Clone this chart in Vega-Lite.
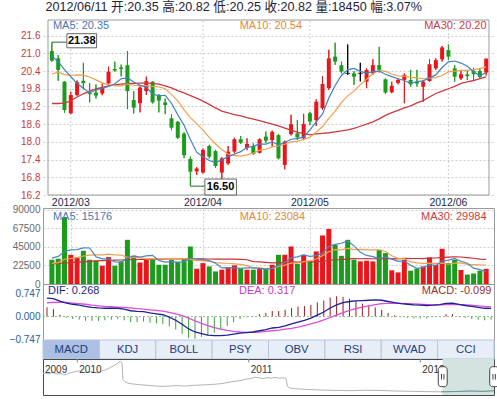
{
  "$schema": "https://vega.github.io/schema/vega-lite/v6.json",
  "padding": 0,
  "background": "#ffffff",
  "spacing": 0,
  "bounds": "flush",
  "title": {"text": "2012/06/11 开:20.35 高:20.82 低:20.25 收:20.82 量:18450 幅:3.07%", "anchor": "start", "dx": 45, "offset": 6, "fontSize": 12.6, "fontWeight": "normal", "color": "#1e2238", "font": "Liberation Sans, Noto Sans CJK SC, sans-serif"},
  "config": {
    "font": "Liberation Sans, Noto Sans CJK SC, sans-serif",
    "view": {"stroke": "#9a9a9a", "strokeWidth": 1},
    "axis": {"labelFontSize": 10, "domain": false, "ticks": false, "gridDash": [2, 2], "gridColor": "#cccccc", "gridWidth": 1, "labelPadding": 3, "labelOverlap": false}
  },
  "datasets": {
    "k": [
      {"i":0,"o":21.08,"h":21.38,"l":20.72,"c":20.75,"d":"dn","ma5":20.90,"ma10":20.30,"ma30":19.30,"v":29500,"vd":"dn","vma5":31500,"vma10":25000,"vma30":24500,"dif":0.60,"dea":0.45,"macd":0.30},
      {"i":1,"o":20.83,"h":20.94,"l":20.07,"c":20.44,"d":"dn","ma5":20.72,"ma10":20.36,"ma30":19.30,"v":30700,"vd":"dn","vma5":33500,"vma10":26000,"vma30":25000,"dif":0.58,"dea":0.46,"macd":0.24},
      {"i":2,"o":20.04,"h":20.06,"l":18.99,"c":19.08,"d":"dn","ma5":20.45,"ma10":20.28,"ma30":19.31,"v":81200,"vd":"dn","vma5":39500,"vma10":30000,"vma30":25500,"dif":0.50,"dea":0.47,"macd":0.06},
      {"i":3,"o":18.97,"h":19.70,"l":18.94,"c":19.59,"d":"up","ma5":20.21,"ma10":20.25,"ma30":19.40,"v":35500,"vd":"up","vma5":41500,"vma10":31000,"vma30":26000,"dif":0.44,"dea":0.46,"macd":-0.04},
      {"i":4,"o":19.59,"h":20.08,"l":19.55,"c":20.02,"d":"up","ma5":19.98,"ma10":20.27,"ma30":19.52,"v":32300,"vd":"up","vma5":41800,"vma10":32000,"vma30":26500,"dif":0.40,"dea":0.44,"macd":-0.08},
      {"i":5,"o":20.07,"h":20.68,"l":19.78,"c":19.99,"d":"dn","ma5":19.82,"ma10":20.26,"ma30":19.63,"v":40400,"vd":"dn","vma5":44000,"vma10":34000,"vma30":27000,"dif":0.37,"dea":0.42,"macd":-0.10},
      {"i":6,"o":19.66,"h":19.99,"l":19.34,"c":19.62,"d":"dn","ma5":19.66,"ma10":20.20,"ma30":19.72,"v":29500,"vd":"dn","vma5":43800,"vma10":35000,"vma30":27500,"dif":0.33,"dea":0.40,"macd":-0.14},
      {"i":7,"o":19.67,"h":19.95,"l":19.47,"c":19.57,"d":"dn","ma5":19.76,"ma10":20.10,"ma30":19.80,"v":28300,"vd":"dn","vma5":33200,"vma10":35500,"vma30":28000,"dif":0.30,"dea":0.37,"macd":-0.14},
      {"i":8,"o":19.64,"h":19.98,"l":19.58,"c":19.84,"d":"up","ma5":19.81,"ma10":20.00,"ma30":19.85,"v":22200,"vd":"up","vma5":30500,"vma10":35500,"vma30":28300,"dif":0.28,"dea":0.35,"macd":-0.14},
      {"i":9,"o":19.98,"h":20.55,"l":19.90,"c":20.38,"d":"up","ma5":19.88,"ma10":19.93,"ma30":19.90,"v":32700,"vd":"up","vma5":30600,"vma10":36200,"vma30":28600,"dif":0.27,"dea":0.33,"macd":-0.12},
      {"i":10,"o":20.47,"h":20.72,"l":20.38,"c":20.42,"d":"dn","ma5":19.97,"ma10":19.90,"ma30":19.93,"v":22200,"vd":"dn","vma5":27000,"vma10":35500,"vma30":29000,"dif":0.27,"dea":0.32,"macd":-0.10},
      {"i":11,"o":20.52,"h":20.62,"l":20.22,"c":20.47,"d":"dn","ma5":20.14,"ma10":19.90,"ma30":19.96,"v":27500,"vd":"dn","vma5":26600,"vma10":35200,"vma30":29200,"dif":0.27,"dea":0.31,"macd":-0.08},
      {"i":12,"o":20.60,"h":21.08,"l":19.11,"c":19.72,"d":"dn","ma5":20.17,"ma10":19.96,"ma30":19.97,"v":53700,"vd":"dn","vma5":31700,"vma10":32400,"vma30":29500,"dif":0.24,"dea":0.30,"macd":-0.12},
      {"i":13,"o":19.42,"h":19.72,"l":18.96,"c":19.16,"d":"dn","ma5":20.03,"ma10":19.92,"ma30":19.98,"v":34300,"vd":"dn","vma5":34100,"vma10":32300,"vma30":29700,"dif":0.19,"dea":0.28,"macd":-0.18},
      {"i":14,"o":19.31,"h":19.93,"l":19.00,"c":19.84,"d":"up","ma5":19.92,"ma10":19.90,"ma30":19.99,"v":26200,"vd":"up","vma5":32800,"vma10":31700,"vma30":29800,"dif":0.17,"dea":0.26,"macd":-0.18},
      {"i":15,"o":19.72,"h":20.21,"l":19.59,"c":20.06,"d":"up","ma5":19.85,"ma10":19.91,"ma30":19.99,"v":29500,"vd":"up","vma5":34200,"vma10":30600,"vma30":30000,"dif":0.16,"dea":0.24,"macd":-0.16},
      {"i":16,"o":20.04,"h":20.06,"l":19.30,"c":19.34,"d":"dn","ma5":19.62,"ma10":19.88,"ma30":19.98,"v":30300,"vd":"dn","vma5":34800,"vma10":30700,"vma30":30100,"dif":0.12,"dea":0.22,"macd":-0.20},
      {"i":17,"o":19.59,"h":19.62,"l":19.00,"c":19.40,"d":"dn","ma5":19.56,"ma10":19.86,"ma30":19.96,"v":23400,"vd":"dn","vma5":28700,"vma10":30200,"vma30":30200,"dif":0.09,"dea":0.20,"macd":-0.22},
      {"i":18,"o":19.34,"h":19.47,"l":18.94,"c":19.25,"d":"dn","ma5":19.58,"ma10":19.80,"ma30":19.90,"v":23400,"vd":"dn","vma5":26600,"vma10":30300,"vma30":30300,"dif":0.06,"dea":0.18,"macd":-0.24},
      {"i":19,"o":18.80,"h":18.93,"l":18.40,"c":18.48,"d":"dn","ma5":19.31,"ma10":19.61,"ma30":19.83,"v":29500,"vd":"dn","vma5":27200,"vma10":30000,"vma30":30400,"dif":-0.02,"dea":0.14,"macd":-0.32},
      {"i":20,"o":18.68,"h":18.71,"l":18.10,"c":18.14,"d":"dn","ma5":18.92,"ma10":19.39,"ma30":19.74,"v":26700,"vd":"dn","vma5":26700,"vma10":30500,"vma30":30400,"dif":-0.12,"dea":0.09,"macd":-0.42},
      {"i":21,"o":18.28,"h":18.32,"l":17.45,"c":17.55,"d":"dn","ma5":18.56,"ma10":19.09,"ma30":19.66,"v":31500,"vd":"dn","vma5":26900,"vma10":30900,"vma30":30500,"dif":-0.25,"dea":0.03,"macd":-0.56},
      {"i":22,"o":17.42,"h":17.50,"l":16.50,"c":16.99,"d":"dn","ma5":18.08,"ma10":18.82,"ma30":19.57,"v":45600,"vd":"dn","vma5":31300,"vma10":30000,"vma30":30600,"dif":-0.40,"dea":-0.05,"macd":-0.70},
      {"i":23,"o":17.00,"h":17.15,"l":16.88,"c":17.10,"d":"up","ma5":17.65,"ma10":18.62,"ma30":19.48,"v":18600,"vd":"up","vma5":30400,"vma10":28500,"vma30":30500,"dif":-0.50,"dea":-0.14,"macd":-0.72},
      {"i":24,"o":16.96,"h":17.78,"l":16.93,"c":17.73,"d":"up","ma5":17.50,"ma10":18.40,"ma30":19.38,"v":25400,"vd":"up","vma5":29600,"vma10":28400,"vma30":30500,"dif":-0.55,"dea":-0.22,"macd":-0.66},
      {"i":25,"o":17.86,"h":17.90,"l":17.44,"c":17.50,"d":"dn","ma5":17.37,"ma10":18.15,"ma30":19.27,"v":21400,"vd":"dn","vma5":28500,"vma10":27600,"vma30":30400,"dif":-0.60,"dea":-0.29,"macd":-0.62},
      {"i":26,"o":17.69,"h":17.73,"l":17.12,"c":17.18,"d":"dn","ma5":17.30,"ma10":17.93,"ma30":19.15,"v":15300,"vd":"dn","vma5":25300,"vma10":26100,"vma30":30300,"dif":-0.62,"dea":-0.36,"macd":-0.52},
      {"i":27,"o":16.96,"h":17.48,"l":16.65,"c":17.44,"d":"up","ma5":17.39,"ma10":17.74,"ma30":19.04,"v":17400,"vd":"up","vma5":19600,"vma10":25500,"vma30":30300,"dif":-0.62,"dea":-0.41,"macd":-0.42},
      {"i":28,"o":17.27,"h":17.86,"l":17.22,"c":17.67,"d":"up","ma5":17.50,"ma10":17.58,"ma30":18.98,"v":20600,"vd":"up","vma5":20000,"vma10":25200,"vma30":30200,"dif":-0.60,"dea":-0.45,"macd":-0.30},
      {"i":29,"o":17.67,"h":18.14,"l":17.61,"c":18.09,"d":"up","ma5":17.58,"ma10":17.54,"ma30":18.92,"v":22600,"vd":"up","vma5":19500,"vma10":24500,"vma30":30200,"dif":-0.57,"dea":-0.48,"macd":-0.18},
      {"i":30,"o":18.09,"h":18.20,"l":17.93,"c":17.97,"d":"dn","ma5":17.67,"ma10":17.52,"ma30":18.88,"v":19400,"vd":"dn","vma5":19100,"vma10":23800,"vma30":29900,"dif":-0.54,"dea":-0.50,"macd":-0.08},
      {"i":31,"o":17.80,"h":18.12,"l":17.72,"c":17.93,"d":"up","ma5":17.82,"ma10":17.56,"ma30":18.82,"v":17400,"vd":"up","vma5":19500,"vma10":22400,"vma30":29500,"dif":-0.52,"dea":-0.51,"macd":-0.02},
      {"i":32,"o":17.86,"h":17.95,"l":17.56,"c":17.59,"d":"dn","ma5":17.85,"ma10":17.62,"ma30":18.77,"v":17400,"vd":"dn","vma5":19500,"vma10":19600,"vma30":27300,"dif":-0.50,"dea":-0.51,"macd":0.02},
      {"i":33,"o":17.63,"h":18.12,"l":17.61,"c":18.09,"d":"up","ma5":17.93,"ma10":17.72,"ma30":18.72,"v":18200,"vd":"up","vma5":19000,"vma10":19500,"vma30":26800,"dif":-0.46,"dea":-0.50,"macd":0.08},
      {"i":34,"o":18.18,"h":18.35,"l":17.95,"c":18.04,"d":"dn","ma5":17.92,"ma10":17.75,"ma30":18.66,"v":18600,"vd":"dn","vma5":18200,"vma10":18800,"vma30":26300,"dif":-0.42,"dea":-0.48,"macd":0.12},
      {"i":35,"o":18.06,"h":18.38,"l":17.84,"c":18.34,"d":"up","ma5":18.00,"ma10":17.83,"ma30":18.60,"v":23400,"vd":"up","vma5":19000,"vma10":19000,"vma30":25700,"dif":-0.37,"dea":-0.46,"macd":0.18},
      {"i":36,"o":18.23,"h":18.26,"l":17.41,"c":17.44,"d":"dn","ma5":17.90,"ma10":17.86,"ma30":18.54,"v":35500,"vd":"dn","vma5":22600,"vma10":21100,"vma30":25900,"dif":-0.35,"dea":-0.44,"macd":0.18},
      {"i":37,"o":17.22,"h":18.04,"l":17.07,"c":18.01,"d":"up","ma5":17.98,"ma10":17.92,"ma30":18.47,"v":35500,"vd":"up","vma5":26200,"vma10":22900,"vma30":26200,"dif":-0.30,"dea":-0.41,"macd":0.22},
      {"i":38,"o":18.26,"h":18.92,"l":18.22,"c":18.60,"d":"up","ma5":18.09,"ma10":18.01,"ma30":18.40,"v":45600,"vd":"up","vma5":31700,"vma10":25400,"vma30":27000,"dif":-0.24,"dea":-0.38,"macd":0.28},
      {"i":39,"o":18.29,"h":18.74,"l":18.06,"c":18.15,"d":"dn","ma5":18.11,"ma10":18.02,"ma30":18.33,"v":24600,"vd":"dn","vma5":32900,"vma10":25600,"vma30":26700,"dif":-0.18,"dea":-0.34,"macd":0.32},
      {"i":40,"o":18.12,"h":18.95,"l":18.06,"c":18.61,"d":"up","ma5":18.16,"ma10":18.08,"ma30":18.28,"v":35500,"vd":"up","vma5":35300,"vma10":27200,"vma30":27100,"dif":-0.12,"dea":-0.29,"macd":0.34},
      {"i":41,"o":18.97,"h":19.02,"l":18.57,"c":18.69,"d":"dn","ma5":18.41,"ma10":18.16,"ma30":18.24,"v":27500,"vd":"dn","vma5":33700,"vma10":28200,"vma30":27100,"dif":-0.05,"dea":-0.24,"macd":0.38},
      {"i":42,"o":18.74,"h":19.44,"l":18.54,"c":19.36,"d":"up","ma5":18.68,"ma10":18.33,"ma30":18.27,"v":39600,"vd":"up","vma5":34600,"vma10":30400,"vma30":26700,"dif":0.05,"dea":-0.18,"macd":0.46},
      {"i":43,"o":19.14,"h":20.23,"l":19.08,"c":19.96,"d":"up","ma5":18.95,"ma10":18.52,"ma30":18.29,"v":59000,"vd":"up","vma5":37200,"vma10":34500,"vma30":27500,"dif":0.15,"dea":-0.11,"macd":0.52},
      {"i":44,"o":19.82,"h":21.12,"l":19.76,"c":20.83,"d":"up","ma5":19.49,"ma10":18.80,"ma30":18.31,"v":67000,"vd":"up","vma5":45700,"vma10":39300,"vma30":28800,"dif":0.28,"dea":-0.03,"macd":0.62},
      {"i":45,"o":20.89,"h":21.36,"l":20.61,"c":20.72,"d":"dn","ma5":19.91,"ma10":19.04,"ma30":18.34,"v":47600,"vd":"dn","vma5":48100,"vma10":41700,"vma30":29500,"dif":0.38,"dea":0.05,"macd":0.66},
      {"i":46,"o":20.60,"h":20.72,"l":20.32,"c":20.38,"d":"dn","ma5":20.25,"ma10":19.33,"ma30":18.37,"v":34300,"vd":"dn","vma5":49500,"vma10":41600,"vma30":29600,"dif":0.45,"dea":0.13,"macd":0.64},
      {"i":47,"o":20.32,"h":21.30,"l":20.27,"c":20.32,"d":"flat","ma5":20.44,"ma10":19.56,"ma30":18.41,"v":53700,"vd":"dn","vma5":52300,"vma10":43400,"vma30":30600,"dif":0.49,"dea":0.20,"macd":0.58},
      {"i":48,"o":20.32,"h":20.40,"l":19.93,"c":20.21,"d":"dn","ma5":20.49,"ma10":19.72,"ma30":18.46,"v":29500,"vd":"dn","vma5":46400,"vma10":41800,"vma30":30800,"dif":0.51,"dea":0.26,"macd":0.50},
      {"i":49,"o":20.32,"h":20.68,"l":20.05,"c":20.32,"d":"flat","ma5":20.39,"ma10":19.94,"ma30":18.53,"v":27500,"vd":"up","vma5":38500,"vma10":42100,"vma30":30700,"dif":0.52,"dea":0.31,"macd":0.42},
      {"i":50,"o":20.04,"h":20.49,"l":19.82,"c":20.44,"d":"up","ma5":20.33,"ma10":20.12,"ma30":18.60,"v":28300,"vd":"up","vma5":34700,"vma10":41400,"vma30":30800,"dif":0.53,"dea":0.35,"macd":0.36},
      {"i":51,"o":20.32,"h":20.80,"l":20.27,"c":20.60,"d":"up","ma5":20.38,"ma10":20.31,"ma30":18.68,"v":27500,"vd":"up","vma5":33300,"vma10":41400,"vma30":30700,"dif":0.54,"dea":0.39,"macd":0.30},
      {"i":52,"o":20.60,"h":21.22,"l":20.35,"c":20.44,"d":"dn","ma5":20.40,"ma10":20.42,"ma30":18.78,"v":41600,"vd":"dn","vma5":30900,"vma10":41600,"vma30":30500,"dif":0.53,"dea":0.42,"macd":0.22},
      {"i":53,"o":20.12,"h":20.15,"l":19.62,"c":19.67,"d":"dn","ma5":20.29,"ma10":20.39,"ma30":18.90,"v":37600,"vd":"dn","vma5":32500,"vma10":39500,"vma30":31200,"dif":0.49,"dea":0.43,"macd":0.12},
      {"i":54,"o":19.68,"h":20.04,"l":19.65,"c":19.90,"d":"up","ma5":20.21,"ma10":20.30,"ma30":18.99,"v":16600,"vd":"up","vma5":30300,"vma10":34400,"vma30":30900,"dif":0.45,"dea":0.43,"macd":0.04},
      {"i":55,"o":20.00,"h":20.15,"l":19.95,"c":20.10,"d":"up","ma5":20.14,"ma10":20.24,"ma30":19.07,"v":14100,"vd":"up","vma5":27500,"vma10":31100,"vma30":30600,"dif":0.42,"dea":0.43,"macd":-0.02},
      {"i":56,"o":20.10,"h":20.32,"l":19.31,"c":20.27,"d":"up","ma5":20.08,"ma10":20.23,"ma30":19.15,"v":29500,"vd":"up","vma5":27900,"vma10":30600,"vma30":31100,"dif":0.40,"dea":0.42,"macd":-0.04},
      {"i":57,"o":20.10,"h":20.44,"l":19.87,"c":19.95,"d":"dn","ma5":19.98,"ma10":20.19,"ma30":19.22,"v":16200,"vd":"dn","vma5":22800,"vma10":26800,"vma30":31000,"dif":0.38,"dea":0.41,"macd":-0.06},
      {"i":58,"o":20.04,"h":20.44,"l":19.87,"c":19.98,"d":"dn","ma5":20.04,"ma10":20.17,"ma30":19.32,"v":18600,"vd":"dn","vma5":19000,"vma10":25800,"vma30":31000,"dif":0.37,"dea":0.40,"macd":-0.06},
      {"i":59,"o":19.87,"h":20.10,"l":19.36,"c":20.04,"d":"up","ma5":20.07,"ma10":20.14,"ma30":19.40,"v":21400,"vd":"up","vma5":20000,"vma10":25100,"vma30":30900,"dif":0.36,"dea":0.39,"macd":-0.06},
      {"i":60,"o":20.06,"h":20.80,"l":20.04,"c":20.63,"d":"up","ma5":20.17,"ma10":20.16,"ma30":19.52,"v":32300,"vd":"up","vma5":23600,"vma10":25500,"vma30":31400,"dif":0.37,"dea":0.38,"macd":-0.02},
      {"i":61,"o":20.49,"h":20.83,"l":20.44,"c":20.77,"d":"up","ma5":20.27,"ma10":20.18,"ma30":19.64,"v":23400,"vd":"up","vma5":22400,"vma10":25100,"vma30":31600,"dif":0.39,"dea":0.38,"macd":0.02},
      {"i":62,"o":20.80,"h":21.25,"l":20.72,"c":21.20,"d":"up","ma5":20.52,"ma10":20.25,"ma30":19.72,"v":42800,"vd":"up","vma5":27700,"vma10":25300,"vma30":32400,"dif":0.43,"dea":0.39,"macd":0.08},
      {"i":63,"o":21.11,"h":21.30,"l":20.77,"c":20.89,"d":"dn","ma5":20.71,"ma10":20.37,"ma30":19.80,"v":25400,"vd":"dn","vma5":29100,"vma10":24000,"vma30":32700,"dif":0.44,"dea":0.40,"macd":0.08},
      {"i":64,"o":20.49,"h":20.60,"l":20.04,"c":20.21,"d":"dn","ma5":20.74,"ma10":20.40,"ma30":19.88,"v":29500,"vd":"dn","vma5":30700,"vma10":25300,"vma30":33000,"dif":0.40,"dea":0.39,"macd":0.02},
      {"i":65,"o":20.15,"h":20.44,"l":20.10,"c":20.29,"d":"up","ma5":20.67,"ma10":20.42,"ma30":19.98,"v":17000,"vd":"up","vma5":27600,"vma10":25600,"vma30":32800,"dif":0.36,"dea":0.38,"macd":-0.04},
      {"i":66,"o":20.29,"h":20.44,"l":20.10,"c":20.23,"d":"dn","ma5":20.56,"ma10":20.42,"ma30":20.03,"v":11500,"vd":"dn","vma5":25200,"vma10":23800,"vma30":32000,"dif":0.33,"dea":0.37,"macd":-0.08},
      {"i":67,"o":20.41,"h":20.51,"l":20.10,"c":20.29,"d":"dn","ma5":20.38,"ma10":20.45,"ma30":20.08,"v":12800,"vd":"dn","vma5":19200,"vma10":23500,"vma30":31300,"dif":0.30,"dea":0.35,"macd":-0.10},
      {"i":68,"o":20.40,"h":20.49,"l":20.15,"c":20.20,"d":"dn","ma5":20.24,"ma10":20.48,"ma30":20.14,"v":16200,"vd":"dn","vma5":17400,"vma10":23200,"vma30":30300,"dif":0.27,"dea":0.33,"macd":-0.12},
      {"i":69,"o":20.35,"h":20.82,"l":20.25,"c":20.82,"d":"up","ma5":20.35,"ma10":20.54,"ma30":20.20,"v":18450,"vd":"up","vma5":15176,"vma10":23084,"vma30":29984,"dif":0.268,"dea":0.317,"macd":-0.099}
    ],
    "months": [
      {"m": 3, "t": "2012/03"}, {"m": 24, "t": "2012/04"}, {"m": 41, "t": "2012/05"}, {"m": 63, "t": "2012/06"}
    ],
    "tabs": [
      {"tab": "MACD", "sel": 1}, {"tab": "KDJ", "sel": 0}, {"tab": "BOLL", "sel": 0}, {"tab": "PSY", "sel": 0},
      {"tab": "OBV", "sel": 0}, {"tab": "RSI", "sel": 0}, {"tab": "WVAD", "sel": 0}, {"tab": "CCI", "sel": 0}
    ],
    "nav": [
      {"yr":2009.800,"p":21.5},{"yr":2009.817,"p":22.0},{"yr":2009.835,"p":21.2},{"yr":2009.852,"p":22.4},{"yr":2009.870,"p":21.8},
      {"yr":2009.887,"p":20.9},{"yr":2009.905,"p":21.5},{"yr":2009.922,"p":20.2},{"yr":2009.940,"p":20.8},{"yr":2009.957,"p":22.1},
      {"yr":2009.975,"p":22.8},{"yr":2009.992,"p":23.6},{"yr":2010.010,"p":24.2},{"yr":2010.027,"p":22.9},{"yr":2010.045,"p":22.2},
      {"yr":2010.062,"p":23.0},{"yr":2010.080,"p":23.4},{"yr":2010.097,"p":22.6},{"yr":2010.115,"p":22.1},{"yr":2010.132,"p":23.0},
      {"yr":2010.150,"p":24.5},{"yr":2010.167,"p":25.4},{"yr":2010.185,"p":26.8},{"yr":2010.196,"p":28.0},{"yr":2010.208,"p":28.6},
      {"yr":2010.220,"p":30.2},{"yr":2010.231,"p":31.0},{"yr":2010.243,"p":33.0},{"yr":2010.252,"p":33.6},{"yr":2010.261,"p":31.8},
      {"yr":2010.266,"p":15.5},{"yr":2010.278,"p":13.2},{"yr":2010.296,"p":11.8},{"yr":2010.325,"p":11.0},{"yr":2010.360,"p":10.4},
      {"yr":2010.401,"p":9.8},{"yr":2010.441,"p":9.2},{"yr":2010.488,"p":8.6},{"yr":2010.535,"p":8.9},{"yr":2010.581,"p":9.4},
      {"yr":2010.628,"p":9.0},{"yr":2010.675,"p":9.6},{"yr":2010.721,"p":10.0},{"yr":2010.768,"p":10.4},{"yr":2010.815,"p":10.9},
      {"yr":2010.850,"p":11.6},{"yr":2010.885,"p":12.8},{"yr":2010.920,"p":13.6},{"yr":2010.955,"p":14.6},{"yr":2010.984,"p":15.8},
      {"yr":2011.013,"p":16.4},{"yr":2011.036,"p":17.8},{"yr":2011.060,"p":17.2},{"yr":2011.083,"p":16.5},{"yr":2011.106,"p":17.4},
      {"yr":2011.129,"p":16.8},{"yr":2011.153,"p":17.6},{"yr":2011.176,"p":16.9},{"yr":2011.199,"p":17.2},{"yr":2011.217,"p":16.6},
      {"yr":2011.226,"p":8.5},{"yr":2011.240,"p":7.0},{"yr":2011.275,"p":6.2},{"yr":2011.334,"p":5.6},{"yr":2011.421,"p":5.0},
      {"yr":2011.509,"p":4.6},{"yr":2011.596,"p":4.3},{"yr":2011.683,"p":4.8},{"yr":2011.771,"p":4.5},{"yr":2011.858,"p":4.0},
      {"yr":2011.946,"p":3.7},{"yr":2012.033,"p":3.4},{"yr":2012.121,"p":3.2},{"yr":2012.208,"p":3.5},{"yr":2012.296,"p":4.0},
      {"yr":2012.366,"p":3.6},{"yr":2012.430,"p":4.3}
    ]
  },
  "vconcat": [
    {
      "width": 451,
      "height": 188,
      "view": {"stroke": null},
      "data": {"name": "k"},
      "layer": [
        {
          "mark": {"type": "rule", "strokeWidth": 1},
          "encoding": {
            "x": {"field": "i", "type": "quantitative", "scale": {"domain": [-0.62, 69.45], "nice": false, "zero": false}, "axis": null},
            "y": {"field": "l", "type": "quantitative", "scale": {"domain": [15.76, 22.13], "nice": false, "zero": false},
                  "axis": {"values": [16.2, 16.8, 17.4, 18, 18.6, 19.2, 19.8, 20.4, 21, 21.6], "tickCount": 30, "format": ".1f", "labelColor": "#c2403c", "grid": true, "title": null, "labelOverlap": false, "labelBound": false, "minExtent": 42, "maxExtent": 42}},
            "y2": {"field": "h"},
            "color": {"condition": [{"test": "datum.d == 'up'", "value": "#e8161b"}, {"test": "datum.d == 'flat'", "value": "#000000"}], "value": "#1c9c1c"}
          }
        },
        {
          "data": {"name": "months"},
          "mark": {"type": "rule", "strokeDash": [2, 2], "color": "#cccccc"},
          "encoding": {
            "x": {"field": "m", "type": "quantitative", "axis": null},
            "y": {"datum": 16.2},
            "y2": {"datum": 22.13}
          }
        },
        {
          "data": {"name": "months"},
          "mark": {"type": "text", "fontSize": 10.5, "color": "#1a2850", "baseline": "middle"},
          "encoding": {
            "x": {"field": "m", "type": "quantitative", "axis": null},
            "y": {"datum": 15.93},
            "text": {"field": "t"}
          }
        },
        {
          "data": {"values": [{}]},
          "mark": {"type": "rect", "fillOpacity": 0, "stroke": "#9a9a9a", "strokeWidth": 1},
          "encoding": {
            "x": {"datum": -0.62, "axis": null},
            "x2": {"datum": 69.45},
            "y": {"datum": 16.2},
            "y2": {"datum": 22.13}
          }
        },
        {
          "mark": {"type": "rule", "strokeWidth": 1},
          "encoding": {
            "x": {"field": "i", "type": "quantitative", "axis": null},
            "y": {"field": "l", "type": "quantitative"},
            "y2": {"field": "h"},
            "color": {"condition": [{"test": "datum.d == 'up'", "value": "#e8161b"}, {"test": "datum.d == 'flat'", "value": "#000000"}], "value": "#1c9c1c"}
          }
        },
        {
          "mark": {"type": "bar", "size": 4},
          "encoding": {
            "x": {"field": "i", "type": "quantitative", "axis": null},
            "y": {"field": "o", "type": "quantitative"},
            "y2": {"field": "c"},
            "color": {"condition": [{"test": "datum.d == 'up'", "value": "#e8161b"}, {"test": "datum.d == 'flat'", "value": "#000000"}], "value": "#1c9c1c"}
          }
        },
        {
          "transform": [{"filter": "datum.d == 'flat'"}],
          "mark": {"type": "tick", "orient": "horizontal", "size": 5, "thickness": 1, "color": "#000000"},
          "encoding": {
            "x": {"field": "i", "type": "quantitative", "axis": null},
            "y": {"field": "c", "type": "quantitative"}
          }
        },
        {
          "mark": {"type": "line", "color": "#cc3a40", "strokeWidth": 1.3},
          "encoding": {"x": {"field": "i", "type": "quantitative", "axis": null}, "y": {"field": "ma30", "type": "quantitative"}}
        },
        {
          "mark": {"type": "line", "color": "#f0a050", "strokeWidth": 1.2},
          "encoding": {"x": {"field": "i", "type": "quantitative", "axis": null}, "y": {"field": "ma10", "type": "quantitative"}}
        },
        {
          "mark": {"type": "line", "color": "#3f80c4", "strokeWidth": 1.2},
          "encoding": {"x": {"field": "i", "type": "quantitative", "axis": null}, "y": {"field": "ma5", "type": "quantitative"}}
        },
        {
          "data": {"values": [{}]},
          "mark": {"type": "rule", "color": "#2e6e2e", "strokeWidth": 1},
          "encoding": {
            "x": {"datum": 0, "axis": null},
            "x2": {"datum": 2.38},
            "y": {"datum": 21.38}
          }
        },
        {
          "data": {"values": [{}]},
          "mark": {"type": "rect", "fill": "#ffffff", "stroke": "#666666", "strokeWidth": 1},
          "encoding": {
            "x": {"datum": 2.38, "axis": null},
            "x2": {"datum": 7.1},
            "y": {"datum": 21.188},
            "y2": {"datum": 21.666}
          }
        },
        {
          "data": {"values": [{"t": "21.38"}]},
          "mark": {"type": "text", "fontWeight": "bold", "fontSize": 11, "color": "#000000", "baseline": "middle"},
          "encoding": {
            "x": {"datum": 4.74, "axis": null},
            "y": {"datum": 21.43},
            "text": {"field": "t"}
          }
        },
        {
          "data": {"values": [{}]},
          "mark": {"type": "rule", "color": "#2e6e2e", "strokeWidth": 1},
          "encoding": {
            "x": {"datum": 22, "axis": null},
            "x2": {"datum": 24.31},
            "y": {"datum": 16.5}
          }
        },
        {
          "data": {"values": [{}]},
          "mark": {"type": "rect", "fill": "#ffffff", "stroke": "#666666", "strokeWidth": 1},
          "encoding": {
            "x": {"datum": 24.31, "axis": null},
            "x2": {"datum": 29.32},
            "y": {"datum": 16.2},
            "y2": {"datum": 16.742}
          }
        },
        {
          "data": {"values": [{"t": "16.50"}]},
          "mark": {"type": "text", "fontWeight": "bold", "fontSize": 11, "color": "#000000", "baseline": "middle"},
          "encoding": {
            "x": {"datum": 26.8, "axis": null},
            "y": {"datum": 16.47},
            "text": {"field": "t"}
          }
        },
        {
          "data": {"values": [{"t": "MA5: 20.35"}]},
          "mark": {"type": "text", "fontSize": 11, "color": "#4677b0", "align": "left", "baseline": "middle"},
          "encoding": {"x": {"datum": 0.16, "axis": null}, "y": {"datum": 21.93}, "text": {"field": "t"}}
        },
        {
          "data": {"values": [{"t": "MA10: 20.54"}]},
          "mark": {"type": "text", "fontSize": 11, "color": "#e0883c", "align": "left", "baseline": "middle"},
          "encoding": {"x": {"datum": 29.83, "axis": null}, "y": {"datum": 21.93}, "text": {"field": "t"}}
        },
        {
          "data": {"values": [{"t": "MA30: 20.20"}]},
          "mark": {"type": "text", "fontSize": 11, "color": "#c83c3c", "align": "right", "baseline": "middle"},
          "encoding": {"x": {"datum": 69.06, "axis": null}, "y": {"datum": 21.93}, "text": {"field": "t"}}
        }
      ]
    },
    {
      "width": 451,
      "height": 76,
      "data": {"name": "k"},
      "layer": [
        {
          "mark": {"type": "bar", "size": 5},
          "encoding": {
            "x": {"field": "i", "type": "quantitative", "scale": {"domain": [-0.62, 69.45], "nice": false, "zero": false},
                  "axis": {"values": [3, 24, 41, 63], "tickCount": 30, "labels": false, "grid": true, "title": null, "minExtent": 0, "maxExtent": 0}},
            "y": {"field": "v", "type": "quantitative", "scale": {"domain": [0, 92400], "nice": false},
                  "axis": {"values": [0, 22500, 45000, 67500, 90000], "tickCount": 30, "format": "d", "labelColor": "#6a6a6a", "grid": true, "title": null, "labelOverlap": false, "labelBound": false, "minExtent": 42, "maxExtent": 42}},
            "color": {"condition": {"test": "datum.vd == 'up'", "value": "#e8161b"}, "value": "#1c9c1c"}
          }
        },
        {
          "mark": {"type": "line", "color": "#c83232", "strokeWidth": 1.2},
          "encoding": {"x": {"field": "i", "type": "quantitative"}, "y": {"field": "vma30", "type": "quantitative"}}
        },
        {
          "mark": {"type": "line", "color": "#f0a050", "strokeWidth": 1.2},
          "encoding": {"x": {"field": "i", "type": "quantitative"}, "y": {"field": "vma10", "type": "quantitative"}}
        },
        {
          "mark": {"type": "line", "color": "#4a86c0", "strokeWidth": 1.2},
          "encoding": {"x": {"field": "i", "type": "quantitative"}, "y": {"field": "vma5", "type": "quantitative"}}
        },
        {
          "data": {"values": [{"t": "MA5: 15176"}]},
          "mark": {"type": "text", "fontSize": 11, "color": "#4677b0", "align": "left", "baseline": "middle"},
          "encoding": {"x": {"datum": 0.16}, "y": {"datum": 81800}, "text": {"field": "t"}}
        },
        {
          "data": {"values": [{"t": "MA10: 23084"}]},
          "mark": {"type": "text", "fontSize": 11, "color": "#e0883c", "align": "left", "baseline": "middle"},
          "encoding": {"x": {"datum": 29.83}, "y": {"datum": 81800}, "text": {"field": "t"}}
        },
        {
          "data": {"values": [{"t": "MA30: 29984"}]},
          "mark": {"type": "text", "fontSize": 11, "color": "#c83c3c", "align": "right", "baseline": "middle"},
          "encoding": {"x": {"datum": 69.06}, "y": {"datum": 81800}, "text": {"field": "t"}}
        }
      ]
    },
    {
      "width": 451,
      "height": 56,
      "data": {"name": "k"},
      "layer": [
        {
          "mark": {"type": "rule", "strokeWidth": 1},
          "encoding": {
            "x": {"field": "i", "type": "quantitative", "scale": {"domain": [-0.62, 69.45], "nice": false, "zero": false}, "axis": null},
            "y": {"field": "macd", "type": "quantitative", "scale": {"domain": [-0.76, 1.058], "nice": false, "zero": false},
                  "axis": {"values": [-0.747, 0, 0.747], "tickCount": 30, "format": ".3f", "labelColor": "#2a5f9e", "grid": false, "title": null, "labelOverlap": false, "labelBound": false, "minExtent": 42, "maxExtent": 42}},
            "y2": {"datum": 0},
            "color": {"condition": {"test": "datum.macd >= 0", "value": "#9b1b1b"}, "value": "#3aa13a"}
          }
        },
        {
          "data": {"values": [{}]},
          "mark": {"type": "rule", "color": "#8fba8f", "strokeDash": [2, 2]},
          "encoding": {
            "x": {"datum": -0.62, "axis": null},
            "x2": {"datum": 69.45},
            "y": {"datum": 0}
          }
        },
        {
          "mark": {"type": "line", "color": "#dd4ddd", "strokeWidth": 1.3},
          "encoding": {
            "x": {"field": "i", "type": "quantitative", "axis": null},
            "y": {"field": "dea", "type": "quantitative"}
          }
        },
        {
          "mark": {"type": "line", "color": "#1f1f96", "strokeWidth": 1.3},
          "encoding": {
            "x": {"field": "i", "type": "quantitative", "axis": null},
            "y": {"field": "dif", "type": "quantitative"}
          }
        },
        {
          "data": {"values": [{"t": "DIF: 0.268"}]},
          "mark": {"type": "text", "fontSize": 11, "color": "#1f1f88", "align": "left", "baseline": "middle"},
          "encoding": {"x": {"datum": 0.16, "axis": null}, "y": {"datum": 0.83}, "text": {"field": "t"}}
        },
        {
          "data": {"values": [{"t": "DEA: 0.317"}]},
          "mark": {"type": "text", "fontSize": 11, "color": "#c040c0", "align": "left", "baseline": "middle"},
          "encoding": {"x": {"datum": 29.83, "axis": null}, "y": {"datum": 0.83}, "text": {"field": "t"}}
        },
        {
          "data": {"values": [{"t": "MACD: -0.099"}]},
          "mark": {"type": "text", "fontSize": 11, "color": "#9b3030", "align": "right", "baseline": "middle"},
          "encoding": {"x": {"datum": 69.06, "axis": null}, "y": {"datum": 0.83}, "text": {"field": "t"}}
        }
      ]
    },
    {
      "width": 451,
      "height": 19,
      "view": {"stroke": "#9fb0cc"},
      "data": {"name": "tabs"},
      "layer": [
        {
          "mark": {"type": "rect", "stroke": "#b7c4da", "strokeWidth": 1},
          "encoding": {
            "x": {"field": "tab", "type": "nominal", "sort": null, "scale": {"paddingInner": 0, "paddingOuter": 0}, "axis": null},
            "color": {"condition": {"test": "datum.sel == 1", "value": "#abc0e2"}, "value": "#e7eef8"}
          }
        },
        {
          "mark": {"type": "text", "fontSize": 11.3, "color": "#1f3c7c"},
          "encoding": {
            "x": {"field": "tab", "type": "nominal", "sort": null, "axis": null},
            "text": {"field": "tab"}
          }
        }
      ]
    },
    {
      "width": 451,
      "height": 36,
      "view": {"stroke": "#4a4a4a"},
      "layer": [
        {
          "data": {"values": [{"s": 2012.13, "e": 2012.43}]},
          "mark": {"type": "rect", "color": "#d3e3df"},
          "encoding": {
            "x": {"field": "s", "type": "quantitative", "scale": {"domain": [2009.8, 2012.43], "nice": false, "zero": false}, "axis": null},
            "x2": {"field": "e"}
          }
        },
        {
          "data": {"name": "nav"},
          "mark": {"type": "line", "color": "#b5b5b5", "strokeWidth": 1},
          "encoding": {
            "x": {"field": "yr", "type": "quantitative", "axis": null},
            "y": {"field": "p", "type": "quantitative", "scale": {"domain": [0, 36], "nice": false}, "axis": null}
          }
        },
        {
          "data": {"name": "nav"},
          "transform": [{"filter": "datum.yr >= 2012.12"}],
          "mark": {"type": "line", "color": "#5f9c9c", "strokeWidth": 1},
          "encoding": {
            "x": {"field": "yr", "type": "quantitative", "axis": null},
            "y": {"field": "p", "type": "quantitative", "axis": null}
          }
        },
        {
          "data": {"values": [{"yr": 2010}, {"yr": 2011}, {"yr": 2012}]},
          "mark": {"type": "rule", "color": "#888888"},
          "encoding": {
            "x": {"field": "yr", "type": "quantitative", "axis": null},
            "y": {"datum": 36, "axis": null},
            "y2": {"datum": 32.5}
          }
        },
        {
          "data": {"values": [{"yr": 2009.8, "t": "2009"}, {"yr": 2010, "t": "2010"}, {"yr": 2011, "t": "2011"}, {"yr": 2012, "t": "2012"}]},
          "mark": {"type": "text", "align": "left", "dx": 2, "fontSize": 10, "color": "#333333", "baseline": "middle"},
          "encoding": {
            "x": {"field": "yr", "type": "quantitative", "axis": null},
            "y": {"datum": 25, "axis": null},
            "text": {"field": "t"}
          }
        },
        {
          "data": {"values": [{"a": 2012.105, "b": 2012.157}, {"a": 2012.405, "b": 2012.457}]},
          "mark": {"type": "rect", "fill": "#ffffff", "stroke": "#444444", "strokeWidth": 1, "cornerRadius": 3, "clip": false},
          "encoding": {
            "x": {"field": "a", "type": "quantitative", "axis": null},
            "x2": {"field": "b"},
            "y": {"datum": 28.3, "axis": null},
            "y2": {"datum": 8.3}
          }
        },
        {
          "data": {"values": [{"g": 2012.124}, {"g": 2012.138}, {"g": 2012.424}, {"g": 2012.438}]},
          "mark": {"type": "rule", "color": "#444444", "clip": false},
          "encoding": {
            "x": {"field": "g", "type": "quantitative", "axis": null},
            "y": {"datum": 21, "axis": null},
            "y2": {"datum": 15.5}
          }
        }
      ]
    }
  ]
}
